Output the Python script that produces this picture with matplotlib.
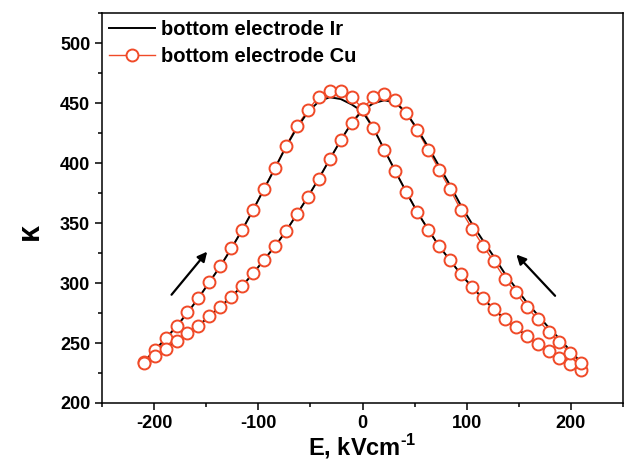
import numpy as np
import matplotlib
matplotlib.use("Agg")
import matplotlib.pyplot as plt
from matplotlib.lines import Line2D

plt.rcParams['font.family'] = ['Liberation Sans', 'DejaVu Sans']
plt.rcParams['font.weight'] = 'bold'
plt.rcParams['mathtext.fontset'] = 'custom'
plt.rcParams['mathtext.rm'] = 'Liberation Sans:bold'
plt.rcParams['mathtext.bf'] = 'Liberation Sans:bold'

# E grid (kV/cm), sweep from -210 to 210 in 10.5 steps
E_up = [-210 + 10.5 * k for k in range(41)]
E_down = E_up[::-1]

# bottom electrode Cu, branch swept from -210 to +210
cu_up = [234.4, 244.1, 253.9, 264.1, 275.5, 287.7, 301.0, 314.3, 329.0, 344.6,
         361.3, 378.8, 396.3, 414.3, 430.9, 444.0, 455.6, 460.6, 460.6, 455.6,
         445.4, 429.2, 411.2, 393.4, 375.9, 359.3, 344.6, 330.8, 319.0, 307.2,
         296.8, 287.2, 278.3, 269.9, 263.0, 256.0, 249.1, 243.5, 237.7, 232.2,
         227.5]
# bottom electrode Cu, branch swept from +210 to -210
cu_down = [233.1, 241.4, 250.5, 259.4, 269.9, 280.2, 292.2, 303.8, 318.0, 331.3,
           345.5, 360.7, 378.2, 394.6, 411.2, 427.3, 441.7, 452.3, 457.9, 455.0,
           445.4, 433.8, 419.0, 403.2, 387.1, 371.8, 357.4, 343.3, 330.7, 319.5,
           308.0, 297.7, 288.5, 280.2, 272.4, 264.4, 258.1, 251.6, 245.0, 239.1,
           233.1]

# bottom electrode Ir
ir_up = [234.0, 243.8, 253.6, 263.8, 275.2, 287.4, 300.7, 314.0, 328.7, 344.3,
         361.0, 378.5, 395.8, 413.6, 429.5, 442.5, 451.5, 455.0, 453.5, 449.0,
         443.0, 429.0, 411.0, 393.2, 375.9, 359.3, 344.6, 330.8, 319.0, 307.2,
         296.8, 287.2, 278.3, 269.9, 263.0, 256.0, 249.1, 243.5, 237.7, 232.2,
         228.0]
ir_down = [233.5, 243.5, 253.5, 263.0, 273.5, 284.0, 296.0, 308.0, 322.0, 335.5,
           349.5, 364.5, 381.5, 397.5, 413.5, 428.5, 442.0, 450.5, 452.5, 450.0,
           444.0, 433.5, 419.0, 403.2, 387.1, 371.8, 357.4, 343.3, 330.7, 319.5,
           308.0, 297.7, 288.5, 280.2, 272.4, 264.4, 258.1, 251.6, 245.0, 239.1,
           233.1]

xticks = [-200, -100, 0, 100, 200]
yticks = [200, 250, 300, 350, 400, 450, 500]

red = '#F04A28'

fig = plt.figure(figsize=(6.24, 4.66), dpi=100)
ax = fig.add_axes([0.1635, 0.1352, 0.835, 0.8363])

E_cu = E_up + E_down
K_cu = cu_up + cu_down
E_ir = E_up + E_down
K_ir = ir_up + ir_down

ax.plot(E_cu, K_cu, '-', color=red, lw=1.0, zorder=2)
ax.plot(E_ir, K_ir, '-', color='black', lw=1.4, zorder=3)
ax.plot(E_cu, K_cu, 'o', ls='none', ms=8.6, mfc='white', mec=red, mew=1.4, zorder=4)

ax.annotate('', xy=(-147.4, 328.0), xytext=(-185.0, 288.5),
            arrowprops=dict(arrowstyle='-|>', lw=1.6, color='black', mutation_scale=14))
ax.annotate('', xy=(145.8, 325.5), xytext=(186.6, 287.7),
            arrowprops=dict(arrowstyle='-|>', lw=1.6, color='black', mutation_scale=14))

ax.set_xlim(-250, 250)
ax.set_ylim(200, 525)
ax.set_xticks(xticks)
ax.set_yticks(yticks)
ax.set_xticks([-250, -150, -50, 50, 150, 250], minor=True)
ax.set_yticks([225, 275, 325, 375, 425, 475, 525], minor=True)
ax.set_xticklabels([str(v) for v in xticks], fontsize=13, fontweight='bold')
ax.set_yticklabels([str(v) for v in yticks], fontsize=13, fontweight='bold')
ax.tick_params(which='major', direction='out', length=5, width=1.1, top=False, right=False)
ax.tick_params(which='minor', direction='out', length=3, width=1.1, top=False, right=False)
for s in ax.spines.values():
    s.set_linewidth(1.1)

ax.set_xlabel('E, kVcm$^{\\text{-1}}$', fontsize=17, fontweight='bold', labelpad=0)
ax.set_ylabel('κ', fontsize=22, fontweight='bold')
ax.yaxis.set_label_coords(-0.11, 0.44)

h_ir = Line2D([], [], color='black', lw=1.4)
h_cu = Line2D([], [], color=red, lw=1.0, marker='o', ms=8.6, mfc='white', mec=red, mew=1.4)
ax.legend([h_ir, h_cu], ['bottom electrode Ir', 'bottom electrode Cu'],
          loc='upper left', frameon=False, handlelength=2.3,
          handletextpad=0.3, labelspacing=0.4, borderaxespad=0.0,
          borderpad=0.35, prop={'weight': 'bold', 'size': 14.5})

fig.savefig('out.png', dpi=100)
